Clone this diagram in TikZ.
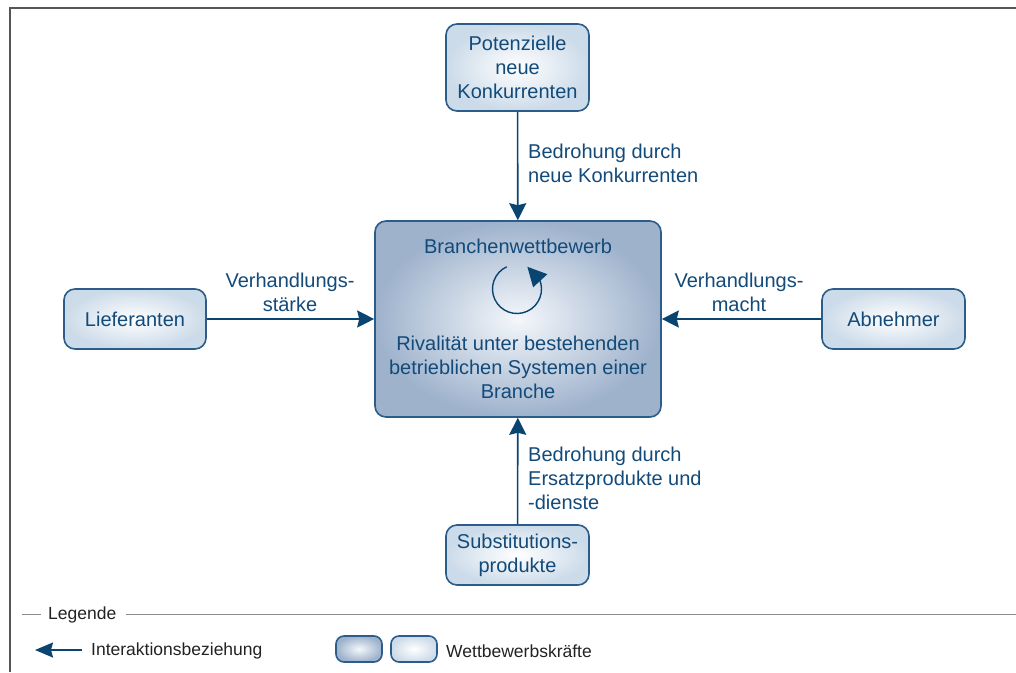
\documentclass[tikz,border=0pt]{standalone}
\usepackage{fontspec}
\setmainfont{Liberation Sans}
\usetikzlibrary{arrows.meta,bending}

\definecolor{txtblue}{RGB}{18,74,122}
\definecolor{arrowblue}{RGB}{10,68,112}
\definecolor{rimblue}{RGB}{44,92,138}
\definecolor{lightrim}{RGB}{204,219,233}
\definecolor{darkrim}{RGB}{158,178,204}
\definecolor{darkcore}{RGB}{244,247,251}
\definecolor{framegray}{RGB}{85,85,85}
\definecolor{legendgray}{RGB}{140,140,140}
\definecolor{legendtxt}{RGB}{34,34,34}

\tikzset{
  forcebox/.style={draw=rimblue, line width=1.6pt, rounded corners=11pt,
    inner sep=0pt, align=center, text=txtblue, font=\fontsize{20}{24}\selectfont,
    shading=radial, inner color=white, outer color=lightrim},
  corebox/.style={forcebox, inner color=darkcore, outer color=darkrim},
  flow/.style={draw=arrowblue, line width=1.6pt,
    -{Stealth[length=17pt,width=17pt,inset=2pt]}},
  flowlabel/.style={text=txtblue, font=\fontsize{20}{24}\selectfont, inner sep=0pt},
  legendtext/.style={text=legendtxt, font=\fontsize{17.5}{21}\selectfont, inner sep=0pt},
}

\begin{document}
\begin{tikzpicture}[x=1pt,y=-1pt]
  \useasboundingbox (0,0) rectangle (1016,672);

  % outer frame (left and top edges)
  \coordinate (frameBL) at (10,672);
  \coordinate (frameTL) at (10,8);
  \coordinate (frameTR) at (1016,8);
  \draw[framegray, line width=2pt] (frameBL) -- (frameTL) -- (frameTR);

  % the five forces
  \node[forcebox, minimum width=143pt, minimum height=87pt] (entrants) at (517.5,67.5)
    {Potenzielle\\neue\\Konkurrenten};
  \node[corebox, minimum width=286pt, minimum height=196pt] (rivalry) at (518,319) {};
  \node[forcebox, minimum width=142pt, minimum height=60pt] (suppliers) at (135,319) {Lieferanten};
  \node[forcebox, minimum width=143pt, minimum height=60pt] (buyers) at (893.5,319) {Abnehmer};
  \node[forcebox, minimum width=143pt, minimum height=60pt] (substitutes) at (517.5,555)
    {Substitutions-\\produkte};

  % contents of the central box
  \node[flowlabel] (rivalryTitle) at (518,246) {Branchenwettbewerb};
  \node[flowlabel, align=center] (rivalryText) at (518,367)
    {Rivalität unter bestehenden\\betrieblichen Systemen einer\\Branche};
  \coordinate (cycleCenter) at (517,289);
  \draw[draw=arrowblue, line width=1.4pt, -{Triangle[length=19pt,width=19pt,flex]}]
    ([shift={(-115:24.5)}]cycleCenter) arc[start angle=-115, end angle=-425, radius=24.5];

  % interaction arrows
  \draw[flow] (entrants) -- (rivalry);
  \draw[flow] (substitutes) -- (rivalry);
  \draw[flow] (suppliers) -- (rivalry);
  \draw[flow] (buyers) -- (rivalry);

  % arrow labels
  \node[flowlabel, align=left, anchor=west] (lblEntrants) at (528,163)
    {Bedrohung durch\\neue Konkurrenten};
  \node[flowlabel, align=left, anchor=west] (lblSubstitutes) at (528,478)
    {Bedrohung durch\\Ersatzprodukte und\\-dienste};
  \node[flowlabel, align=center] (lblSuppliers) at (290,292) {Verhandlungs-\\stärke};
  \node[flowlabel, align=center] (lblBuyers) at (739,292) {Verhandlungs-\\macht};

  % legend
  \node[legendtext, anchor=west] (legendTitle) at (48,615) {Legende};
  \coordinate (legendL) at (22,614);
  \coordinate (legendR) at (1016,614);
  \draw[legendgray, line width=1pt] (legendL) -- ([xshift=-7pt]legendTitle.west |- legendL);
  \draw[legendgray, line width=1pt] ([xshift=9pt]legendTitle.east |- legendR) -- (legendR);

  \coordinate (keyArrowStart) at (82,650);
  \coordinate (keyArrowEnd) at (35,650);
  \draw[draw=arrowblue, line width=1.6pt, -{Stealth[length=18pt,width=15pt,inset=2pt]}]
    (keyArrowStart) -- (keyArrowEnd);
  \node[legendtext, anchor=west] (keyArrowText) at (91,651) {Interaktionsbeziehung};

  \node[corebox, rounded corners=8pt, minimum width=46pt, minimum height=26pt] (keyDark) at (359,649) {};
  \node[forcebox, rounded corners=8pt, minimum width=46pt, minimum height=26pt] (keyLight) at (414,649) {};
  \node[legendtext, anchor=west] (keyBoxText) at (446,651) {Wettbewerbskräfte};
\end{tikzpicture}
\end{document}
